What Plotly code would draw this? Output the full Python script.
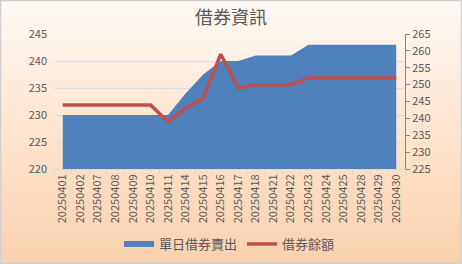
import base64
import plotly.graph_objects as go

dates = ["20250401", "20250402", "20250407", "20250408", "20250409", "20250410",
         "20250411", "20250414", "20250415", "20250416", "20250417", "20250418",
         "20250421", "20250422", "20250423", "20250424", "20250425", "20250428",
         "20250429", "20250430"]
daily_short_sell = [230, 230, 230, 230, 230, 230, 230, 234, 237.5, 240, 240, 241,
                    241, 241, 243, 243, 243, 243, 243, 243]
lending_balance = [244, 244, 244, 244, 244, 244, 239, 243, 246, 259, 249, 250,
                   250, 250, 252, 252, 252, 252, 252, 252]

W, H = 462, 264
ML, MR, MT, MB = 54, 57, 34, 95
pw, ph = W - ML - MR, H - MT - MB

svg = f'''<svg xmlns="http://www.w3.org/2000/svg" width="{W}" height="{H}" viewBox="0 0 {W} {H}" preserveAspectRatio="none">
<defs><linearGradient id="g" x1="0" y1="0" x2="0" y2="1">
<stop offset="0" stop-color="#fefaf5"/><stop offset="0.45" stop-color="#fde6d3"/><stop offset="1" stop-color="#f9d1ae"/>
</linearGradient></defs>
<rect x="0.5" y="0.5" width="{W-1}" height="{H-1}" fill="url(#g)" stroke="#d0d0d0" stroke-width="1.5"/>
</svg>'''
src = "data:image/svg+xml;base64," + base64.b64encode(svg.encode()).decode()

font = "Noto Sans CJK TC, Noto Sans, sans-serif"

fig = go.Figure()
fig.add_trace(go.Scatter(
    x=dates, y=daily_short_sell, name="單日借券賣出", mode="none",
    fill="tozeroy", fillcolor="#4f81bd", yaxis="y"))
fig.add_trace(go.Scatter(
    x=dates, y=lending_balance, name="借券餘額", mode="lines",
    line=dict(color="#c0504d", width=3.5), yaxis="y2"))

fig.update_layout(
    width=W, height=H,
    margin=dict(l=ML, r=MR, t=MT, b=MB, autoexpand=False),
    paper_bgcolor="rgba(0,0,0,0)", plot_bgcolor="rgba(0,0,0,0)",
    font=dict(family=font, color="#595959", size=11),
    title=dict(text="借券資訊", x=0.5, xanchor="center", y=1 - 18 / H, yanchor="middle",
               font=dict(size=18, color="#595959", family=font), automargin=False),
    showlegend=True,
    legend=dict(orientation="h", x=0.5, xanchor="center", y=-(244 - MT - ph) / ph,
                yanchor="middle", font=dict(size=13, color="#595959"),
                bgcolor="rgba(0,0,0,0)"),
    xaxis=dict(type="category", range=[-0.5, len(dates) - 0.5], tickangle=-90,
               tickfont=dict(size=11, color="#595959"), showgrid=False,
               showline=True, linecolor="#d9d9d9", linewidth=1, automargin=False,
               ticks="outside", tickson="boundaries", ticklen=4, tickcolor="#d9d9d9"),
    yaxis=dict(range=[220, 245], dtick=5, showgrid=True, gridcolor="#d6dde8", gridwidth=1,
               zeroline=False, showline=False, tickfont=dict(size=11, color="#595959"),
               ticks="", ticklabelstandoff=6, automargin=False),
    yaxis2=dict(range=[225, 265], dtick=5, overlaying="y", side="right", showgrid=False,
                zeroline=False, showline=True, linecolor="#868686", linewidth=1,
                ticks="outside", ticklen=4, tickcolor="#868686", automargin=False,
                tickfont=dict(size=11, color="#595959")),
    images=[dict(source=src, xref="paper", yref="paper",
                 x=-ML / pw, y=1 + MT / ph, sizex=W / pw, sizey=H / ph,
                 xanchor="left", yanchor="top", sizing="stretch", layer="below")],
)

fig.write_html("out.html", config={"displayModeBar": False},
               post_script="document.body.style.margin='0';document.body.style.overflow='hidden';")
